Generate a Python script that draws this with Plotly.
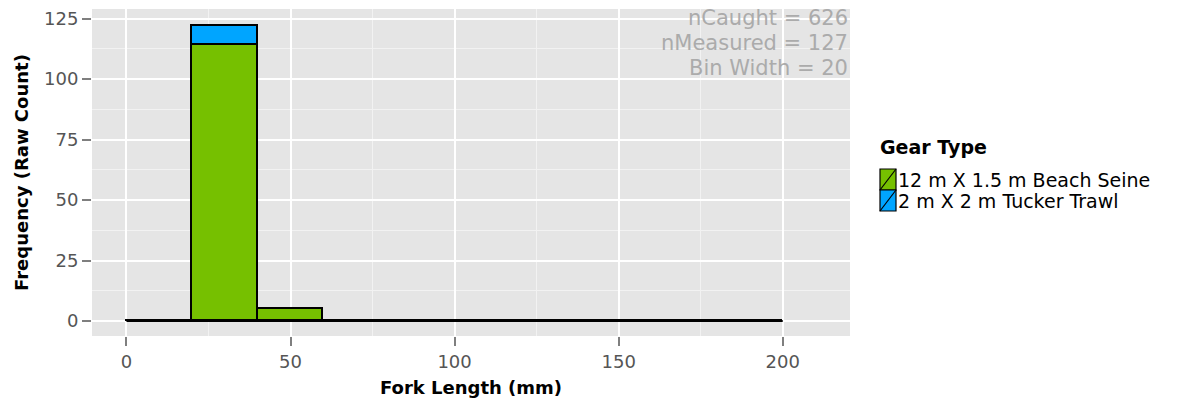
import plotly.graph_objects as go

# ---- data ----
bin_edges = [0, 20, 40, 60, 80, 100, 120, 140, 160, 180, 200]
beach_seine = [0, 114, 5, 0, 0, 0, 0, 0, 0, 0]
tucker_trawl = [0, 8, 0, 0, 0, 0, 0, 0, 0, 0]
series_names = ["12 m X 1.5 m Beach Seine", "2 m X 2 m Tucker Trawl"]
series_colors = ["#76C000", "#00A5FF"]
stats_lines = ["nCaught = 626", "nMeasured = 127", "Bin Width = 20"]
x_ticks = [0, 50, 100, 150, 200]
y_ticks = [0, 25, 50, 75, 100, 125]

centers = [(a + b) / 2 for a, b in zip(bin_edges[:-1], bin_edges[1:])]
widths = [b - a for a, b in zip(bin_edges[:-1], bin_edges[1:])]

FONT = "DejaVu Sans"
fig = go.Figure()
for name, vals, col in zip(series_names, [beach_seine, tucker_trawl], series_colors):
    fig.add_trace(go.Bar(x=centers, y=vals, width=widths, name=name,
                         marker=dict(color=col, line=dict(color="black", width=1.8)),
                         showlegend=False))
# zero baseline of the empty bins (histogram outline)
fig.add_trace(go.Scatter(x=[bin_edges[0], bin_edges[-1]], y=[0, 0], mode="lines",
                         line=dict(color="black", width=2), showlegend=False,
                         hoverinfo="skip"))

fig.update_layout(
    barmode="stack", bargap=0,
    width=1187, height=409,
    margin=dict(l=92, r=337, t=9, b=73),
    paper_bgcolor="white", plot_bgcolor="#E5E5E5",
    font=dict(family=FONT, color="#4D4D4D"),
)
fig.update_xaxes(range=[-10.5, 220.5], tickvals=x_ticks, showgrid=True,
                 gridcolor="white", gridwidth=2, zeroline=False,
                 minor=dict(tickvals=[25, 75, 125, 175], showgrid=True, gridcolor="#F2F2F2", gridwidth=1),
                 ticks="outside", ticklen=9, tickcolor="#7F7F7F", tickwidth=1.5,
                 tickfont=dict(size=18, color="#555555"),
                 title=dict(text="<b>Fork Length (mm)</b>", font=dict(size=18, color="black"), standoff=10))
fig.update_yaxes(range=[-6.2, 129], tickvals=y_ticks, showgrid=True,
                 gridcolor="white", gridwidth=2, zeroline=False,
                 minor=dict(tickvals=[12.5, 37.5, 62.5, 87.5, 112.5], showgrid=True, gridcolor="#F2F2F2", gridwidth=1),
                 ticks="outside", ticklen=9, tickcolor="#7F7F7F", tickwidth=1.5,
                 tickfont=dict(size=18, color="#555555"),
                 title=dict(text="<b>Frequency (Raw Count)</b>", font=dict(size=18, color="black"), standoff=10))

# stats annotation
for i, t in enumerate(stats_lines):
    fig.add_annotation(xref="paper", yref="paper", x=1.0, y=1 - (9 + i * 25) / 327,
                       text=t, showarrow=False, xanchor="right", yanchor="middle",
                       font=dict(size=21, color="#ABABAB", family=FONT))

# custom legend
fig.add_annotation(xref="paper", yref="paper", x=(878 - 92) / 758, y=(336 - 147) / 327,
                   text="<b>Gear Type</b>", showarrow=False, xanchor="left", yanchor="middle",
                   font=dict(size=19, color="black", family=FONT))
key_top = [169, 190]
for i, (name, col) in enumerate(zip(series_names, series_colors)):
    y0, y1 = key_top[i], key_top[i] + 21
    fig.add_shape(type="rect", xref="paper", yref="paper",
                  x0=(880 - 92) / 758, x1=(896 - 92) / 758,
                  y0=(336 - y1) / 327, y1=(336 - y0) / 327,
                  fillcolor=col, line=dict(color="black", width=1.2))
    fig.add_shape(type="line", xref="paper", yref="paper",
                  x0=(880 - 92) / 758, x1=(896 - 92) / 758,
                  y0=(336 - y1) / 327, y1=(336 - y0) / 327,
                  line=dict(color="black", width=1.2))
    fig.add_annotation(xref="paper", yref="paper", x=(896 - 92) / 758, y=(336 - (y0 + y1) / 2) / 327,
                       text=name, showarrow=False, xanchor="left", yanchor="middle",
                       font=dict(size=19, color="black", family=FONT))

fig.write_html("out.html")
